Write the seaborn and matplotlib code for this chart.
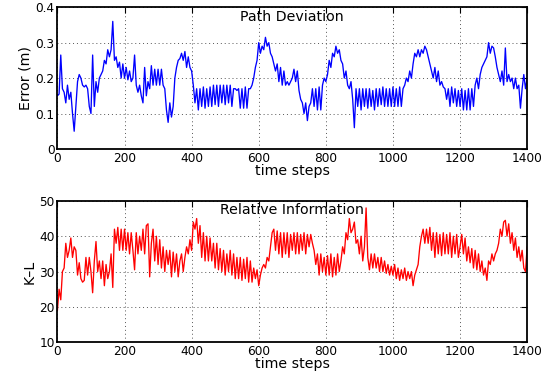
import numpy as np
import pandas as pd
import matplotlib
matplotlib.use("Agg")
import matplotlib.pyplot as plt
import seaborn as sns

# time axis, one sample every 5 steps
steps = np.arange(0, 1401, 5)

# path deviation error (m)
path_error = [
    0.15, 0.155, 0.265, 0.17, 0.16, 0.13, 0.18, 0.14, 0.16, 0.10, 0.05, 0.12, 0.19, 0.21, 0.20, 0.18, 0.175, 0.18, 0.17, 0.12,
    0.10, 0.265, 0.12, 0.19, 0.16, 0.20, 0.21, 0.22, 0.25, 0.24, 0.28, 0.26, 0.28, 0.36, 0.25, 0.26, 0.23, 0.245, 0.20, 0.24,
    0.20, 0.23, 0.195, 0.22, 0.19, 0.20, 0.265, 0.18, 0.16, 0.18, 0.15, 0.13, 0.23, 0.15, 0.19, 0.17, 0.235, 0.18, 0.225, 0.18,
    0.225, 0.18, 0.225, 0.18, 0.17, 0.11, 0.075, 0.13, 0.09, 0.12, 0.20, 0.23, 0.25, 0.255, 0.27, 0.25, 0.275, 0.23, 0.26, 0.23,
    0.22, 0.18, 0.13, 0.17, 0.11, 0.17, 0.12, 0.175, 0.115, 0.17, 0.12, 0.175, 0.12, 0.18, 0.125, 0.18, 0.12, 0.18, 0.13, 0.18,
    0.125, 0.18, 0.13, 0.18, 0.12, 0.17, 0.17, 0.165, 0.17, 0.115, 0.17, 0.115, 0.175, 0.115, 0.17, 0.17, 0.18, 0.20, 0.23, 0.25,
    0.30, 0.27, 0.29, 0.28, 0.315, 0.29, 0.30, 0.27, 0.26, 0.24, 0.22, 0.24, 0.19, 0.23, 0.18, 0.22, 0.18, 0.19, 0.18, 0.19,
    0.20, 0.225, 0.19, 0.22, 0.165, 0.14, 0.13, 0.10, 0.13, 0.08, 0.12, 0.13, 0.17, 0.12, 0.17, 0.11, 0.175, 0.11, 0.18, 0.20,
    0.19, 0.21, 0.25, 0.23, 0.27, 0.26, 0.29, 0.27, 0.28, 0.25, 0.24, 0.20, 0.22, 0.18, 0.17, 0.19, 0.14, 0.06, 0.17, 0.12,
    0.17, 0.11, 0.17, 0.12, 0.17, 0.115, 0.17, 0.12, 0.165, 0.11, 0.17, 0.12, 0.17, 0.125, 0.175, 0.12, 0.17, 0.12, 0.17, 0.12,
    0.175, 0.12, 0.17, 0.12, 0.175, 0.12, 0.17, 0.18, 0.20, 0.19, 0.22, 0.20, 0.24, 0.27, 0.26, 0.28, 0.26, 0.28, 0.27, 0.29,
    0.28, 0.26, 0.24, 0.22, 0.20, 0.23, 0.19, 0.22, 0.18, 0.19, 0.175, 0.17, 0.14, 0.17, 0.12, 0.175, 0.13, 0.17, 0.12, 0.165,
    0.12, 0.17, 0.11, 0.165, 0.11, 0.17, 0.11, 0.17, 0.12, 0.18, 0.20, 0.17, 0.21, 0.23, 0.24, 0.25, 0.26, 0.30, 0.27, 0.29,
    0.285, 0.26, 0.23, 0.21, 0.19, 0.22, 0.18, 0.285, 0.19, 0.21, 0.19, 0.20, 0.17, 0.20, 0.17, 0.18, 0.115, 0.17, 0.21, 0.17, 0.20,
]

# relative information (K-L divergence)
kl_info = [
    19, 25, 22, 30, 31, 38, 34, 36, 39.5, 34, 37, 36, 29, 32.5, 28, 27, 27.5, 34, 29, 34,
    30, 24, 33, 38.5, 30, 33, 28, 33, 26, 32, 28, 30, 35, 25.5, 42, 38, 42.5, 36, 42, 36,
    42, 36, 41, 35, 41, 36, 30.5, 41, 35, 40, 36, 42, 35, 43, 43.5, 28.5, 38, 42, 33, 40,
    32, 39, 31, 37, 30, 36, 32, 36, 28.5, 35.5, 30, 35, 28.5, 33, 35, 30, 34, 37, 35, 39,
    36, 44, 42, 45, 38, 43, 34, 41, 33, 40, 33, 39.5, 33, 38, 31, 38, 30.5, 36.5, 30, 36,
    29, 35, 30, 36, 29, 35, 28, 34, 28, 34, 27.5, 33.5, 28, 34, 27, 33, 27, 31, 28, 30.5,
    26, 29, 31, 32, 31, 34, 33, 37, 41, 42, 36, 41.5, 35, 41, 34, 41, 35, 41, 34, 40.5,
    36, 41, 35, 41, 35, 40.5, 36, 41, 35, 40.5, 37, 40.5, 38, 36, 32, 35, 29, 35, 30, 34,
    29, 34.5, 29, 35, 28.5, 34, 29, 35, 30, 33, 37, 35, 41, 39, 45, 41, 42, 44, 38, 39,
    35, 40, 33, 37, 48, 34, 30.5, 35, 31, 35, 31, 34, 30, 34, 30, 33, 29.5, 32, 29, 31.5,
    29, 32, 28, 31, 27.5, 30.5, 28, 31, 27.5, 30, 28, 30, 26, 29, 30.5, 32, 37, 40, 42, 38,
    42, 38, 42.5, 36, 41, 34, 41, 35, 40.5, 34.5, 41, 35, 40.5, 35, 41, 34, 40, 35, 40.5, 34,
    37, 40.5, 35, 39.5, 33, 37, 32.5, 36.5, 31, 36, 30.5, 35, 30, 33, 29, 31, 27.5, 33, 32, 35,
    33, 35, 36, 38, 42, 40, 44, 44.5, 40, 43.5, 38, 41, 36, 39.5, 34, 37, 33, 36, 31, 30, 37,
]

x_ticks = [0, 200, 400, 600, 800, 1000, 1200, 1400]
err_ticks = [0, 0.1, 0.2, 0.3, 0.4]
kl_ticks = [10, 20, 30, 40, 50]

df = pd.DataFrame({"step": steps, "error": path_error, "kl": kl_info})

sns.set_style("white")
plt.rcParams["font.family"] = ["DejaVu Sans"]
plt.rcParams["text.color"] = "black"
plt.rcParams["axes.labelcolor"] = "black"

fig = plt.figure(figsize=(5.52, 3.79), dpi=100)
ax1 = fig.add_axes([0.104, 0.607, 0.851, 0.374])
ax2 = fig.add_axes([0.104, 0.097, 0.851, 0.373])

sns.lineplot(data=df, x="step", y="error", ax=ax1, color="#0000ff", linewidth=0.95)
sns.lineplot(data=df, x="step", y="kl", ax=ax2, color="#ff0000", linewidth=0.95)

panels = [
    (ax1, err_ticks, "Error (m)", "Path Deviation"),
    (ax2, kl_ticks, "K\u2013L", "Relative Information"),
]
for ax, yt, ylab, title in panels:
    ax.set_xlim(0, 1400)
    ax.set_ylim(yt[0], yt[-1])
    ax.set_xticks(x_ticks)
    ax.set_yticks(yt)
    ax.set_yticklabels([f"{v:g}" for v in yt])
    ax.tick_params(direction="in", length=4, width=0.8, top=True, right=True,
                   labelsize=8.7, pad=2, colors="black")
    ax.grid(True, linestyle=(0, (1, 3)), color="#555555", linewidth=0.7)
    for sp in ax.spines.values():
        sp.set_visible(True)
        sp.set_color("black")
        sp.set_linewidth(1.3)
    ax.set_xlabel("time steps", fontsize=10.2, labelpad=-0.5, color="black")
    ax.set_ylabel(ylab, fontsize=10.2, labelpad=2, color="black")
    # title sits inside the top of the box, like the original figure
    ax.set_title(title, fontsize=10.2, y=0.905, pad=0, color="black")

fig.savefig("out.png", dpi=100)
